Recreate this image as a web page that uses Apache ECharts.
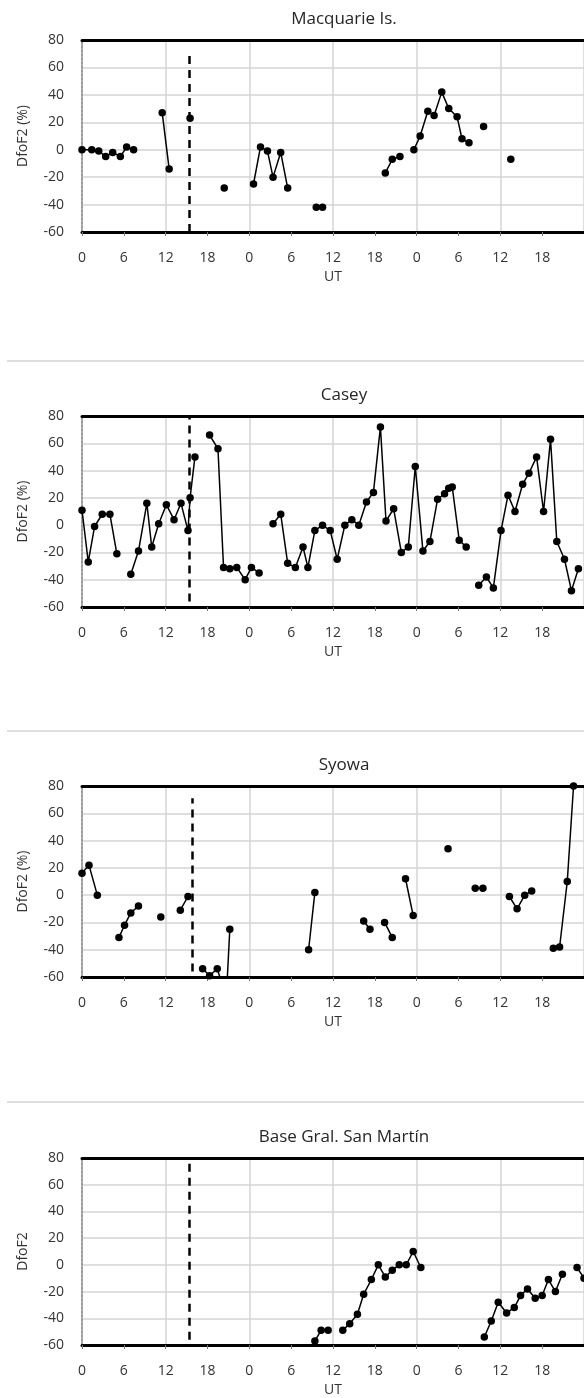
<!DOCTYPE html>
<html>
<head>
<meta charset="utf-8">
<script src="https://cdn.jsdelivr.net/npm/echarts@6/dist/echarts.min.js"></script>
<style>
  html, body { margin: 0; padding: 0; background: #fff; }
  #main { width: 584px; height: 1398px; }
</style>
</head>
<body>
<div id="main"></div>
<script>
// station names (panel titles)
const stations = ['Macquarie Is.', 'Casey', 'Syowa', 'Base Gral. San Martín']
const yNames = ['DfoF2 (%)', 'DfoF2 (%)', 'DfoF2 (%)', 'DfoF2']

// hours since start of day 1 (UT); null = gap in the record
const macquarieHours = [0, 1.4, 2.4, 3.4, 4.4, 5.5, 6.4, 7.4, null, 11.5, 12.5, null, 15.5, null, 20.4, null,
  24.6, 25.6, 26.6, 27.4, 28.5, 29.5, null, 33.6, 34.5, null, 43.5, 44.5, 45.6, null,
  47.6, 48.5, 49.6, 50.5, 51.6, 52.6, 53.8, 54.5, 55.5, null, 57.6, null, 61.5]
const macquarieValues = [0, 0, -1, -5, -2, -5, 2, 0, null, 27, -14, null, 23, null, -28, null,
  -25, 2, -1, -20, -2, -28, null, -42, -42, null, -17, -7, -5, null,
  0, 10, 28, 25, 42, 30, 24, 8, 5, null, 17, null, -7]

const caseyHours = [0, 0.9, 1.8, 2.9, 4, 5, null,
  7, 8.1, 9.3, 10, 11, 12.1, 13.2, 14.2, 15.2, 15.5, 16.2, null,
  18.3, 19.5, 20.3, 21.2, 22.2, 23.4, 24.3, 25.4, null,
  27.4, 28.5, 29.5, 30.6, 31.7, 32.4, 33.4, 34.5, 35.6, 36.6, 37.7, 38.7, 39.7, 40.8, 41.8, 42.8,
  43.6, 44.7, 45.8, 46.8, 47.8, 48.9, 49.9, 51, 52, 52.6, 53.1, 54.1, 55.1, null,
  56.9, 58, 59, 60.1, 61.1, 62.1, 63.2, 64.1, 65.2, 66.2, 67.2, 68.1, 69.2, 70.2, 71.2]
const caseyValues = [11, -27, -1, 8, 8, -21, null,
  -36, -19, 16, -16, 1, 15, 4, 16, -4, 20, 50, null,
  66, 56, -31, -32, -31, -40, -31, -35, null,
  1, 8, -28, -31, -16, -31, -4, 0, -4, -25, 0, 4, 0, 17, 24, 72,
  3, 12, -20, -16, 43, -19, -12, 19, 23, 27, 28, -11, -16, null,
  -44, -38, -46, -4, 22, 10, 30, 38, 50, 10, 63, -12, -25, -48, -32]

const syowaHours = [0, 1, 2.2, null, 5.3, 6.1, 7, 8.1, null, 11.3, null, 14.1, 15.2, null,
  17.3, 18.3, 19.4, 20.7, 21.2, null, 32.5, 33.4, null, 40.4, 41.3, null, 43.4, 44.5, null,
  46.4, 47.5, null, 52.5, null, 56.4, 57.5, null, 61.3, 62.4, 63.5, 64.5, null,
  67.6, 68.5, 69.6, 70.5]
const syowaValues = [16, 22, 0, null, -31, -22, -13, -8, null, -16, null, -11, -1, null,
  -54, -59, -54, -75, -25, null, -40, 2, null, -19, -25, null, -20, -31, null,
  12, -15, null, 34, null, 5, 5, null, -1, -10, 0, 3, null,
  -39, -38, 10, 80]

const sanMartinHours = [33.4, 34.3, 35.3, null, 37.4, 38.4, 39.5, 40.4, 41.5, 42.5, 43.5, 44.5, 45.5, 46.5, 47.5, 48.6, null,
  57.7, 58.7, 59.7, 60.9, 62, 62.9, 63.9, 65, 66, 66.9, 67.9, 68.9, null, 71, 72]
const sanMartinValues = [-57, -49, -49, null, -49, -44, -37, -22, -11, 0, -9, -4, 0, 0, 10, -2, null,
  -54, -42, -28, -36, -32, -23, -18, -25, -23, -11, -20, -7, null, -2, -10]

// time of the event (dashed line), hours, and its drawn extent in DfoF2 units
const eventHours = [15.4, 15.4, 15.8, 15.4]
const eventSpan = [[-60, 72], [-56, 80], [-56, 71], [-56, 80]]

const hourSets = [macquarieHours, caseyHours, syowaHours, sanMartinHours]
const valueSets = [macquarieValues, caseyValues, syowaValues, sanMartinValues]

// panel layout
const tops = [40, 416, 786, 1158]
const heights = [192, 191, 191, 192]
const titleTops = [6, 382, 752, 1124]
const sepYs = [361, 731, 1102]

const font = '"Open Sans", sans-serif'
const chart = echarts.init(document.getElementById('main'))

const grids = [], xAxes = [], yAxes = [], series = [], titles = []
stations.forEach((name, i) => {
  grids.push({ left: 82, width: 507, top: tops[i], height: heights[i], containLabel: false })
  titles.push({
    text: name, left: 339, top: titleTops[i], textAlign: 'center',
    textStyle: { fontFamily: font, fontSize: 17, fontWeight: 'normal', color: '#262626' }
  })
  // axis carrying labels + ticks (every 6 h)
  xAxes.push({
    type: 'value', gridIndex: i, min: 0, max: 72, interval: 6, position: 'bottom',
    name: 'UT', nameLocation: 'middle', nameGap: 38,
    nameTextStyle: { fontFamily: font, fontSize: 14, color: '#333' },
    axisLine: { show: true, onZero: false, lineStyle: { color: '#000', width: 3 } },
    axisTick: { show: true, length: 4, lineStyle: { color: '#777' } },
    axisLabel: { margin: 19, fontFamily: font, fontSize: 14, color: '#333',
      showMaxLabel: false, formatter: v => String(v % 24) },
    splitLine: { show: false }
  })
  // axis carrying vertical grid lines (every 12 h) and the top border
  xAxes.push({
    type: 'value', gridIndex: i, min: 0, max: 72, interval: 12, position: 'top',
    axisLine: { show: true, onZero: false, lineStyle: { color: '#000', width: 3 } },
    axisTick: { show: false }, axisLabel: { show: false },
    splitLine: { show: true, lineStyle: { color: '#d4d4d4', width: 1.5 } }
  })
  yAxes.push({
    type: 'value', gridIndex: i, min: -60, max: 80, interval: 20,
    name: yNames[i], nameLocation: 'middle', nameGap: 52,
    nameTextStyle: { fontFamily: font, fontSize: 14, color: '#333' },
    axisLine: { show: true, onZero: false, lineStyle: { color: '#9a9a9a', width: 2, type: 'dotted' } },
    axisTick: { show: false },
    axisLabel: { margin: 18, fontFamily: font, fontSize: 14, color: '#333' },
    splitLine: { show: true, lineStyle: { color: '#d4d4d4', width: 1.5 } }
  })
  const data = hourSets[i].map((h, k) => [h, valueSets[i][k]])
  series.push({
    type: 'line', xAxisIndex: i * 2, yAxisIndex: i, data: data,
    symbol: 'circle', symbolSize: 7.5, clip: true, connectNulls: false,
    itemStyle: { color: '#000' }, lineStyle: { color: '#000', width: 1.5 },
    animation: false,
    markLine: {
      silent: true, symbol: 'none', label: { show: false },
      lineStyle: { color: '#000', width: 2.5, type: [8, 6] },
      data: [[{ coord: [eventHours[i], eventSpan[i][0]] }, { coord: [eventHours[i], eventSpan[i][1]] }]]
    }
  })
})

const graphic = sepYs.map(y => ({
  type: 'line', shape: { x1: 7, y1: y, x2: 584, y2: y },
  style: { stroke: '#dedede', lineWidth: 2 }
}))

chart.setOption({
  animation: false,
  title: titles,
  grid: grids,
  xAxis: xAxes,
  yAxis: yAxes,
  series: series,
  graphic: graphic
})
</script>
</body>
</html>
